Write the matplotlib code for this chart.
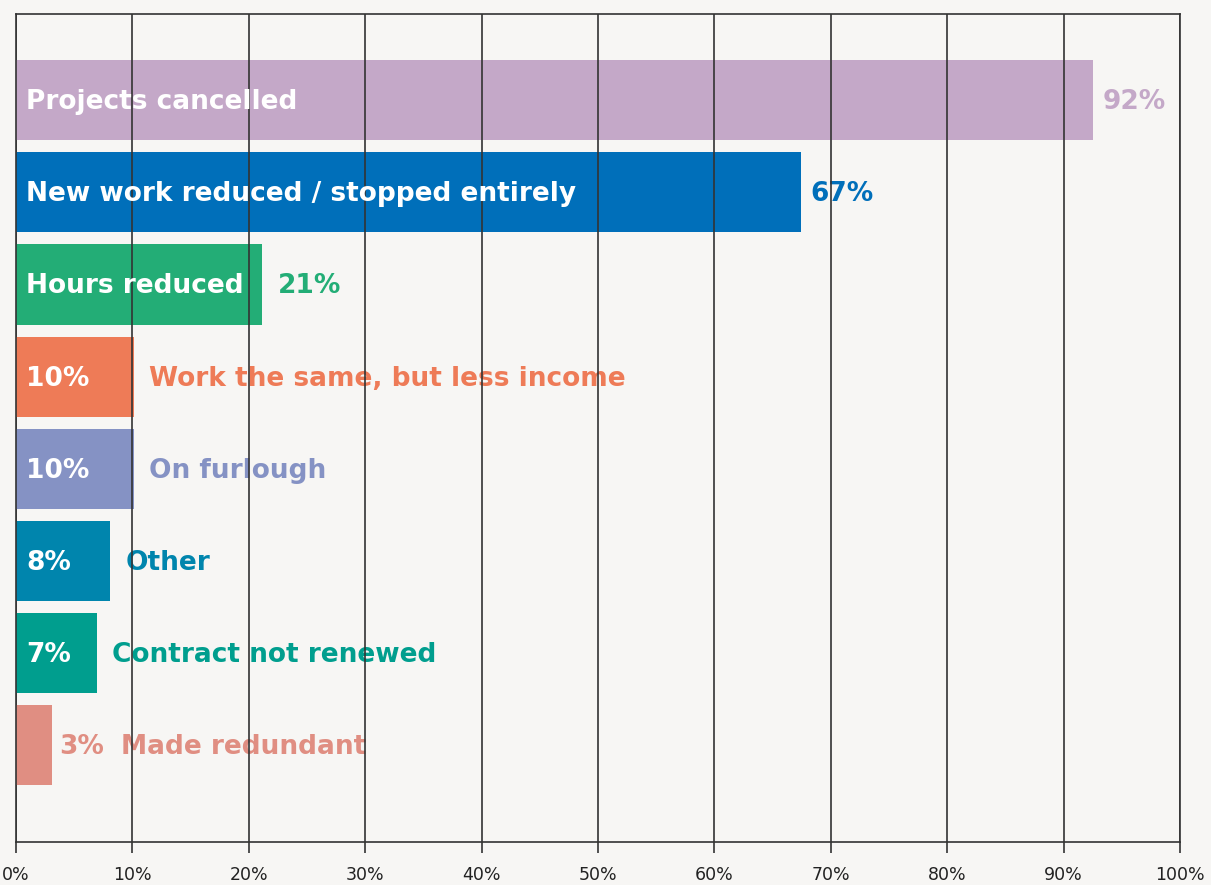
import numpy as np
import matplotlib.pyplot as plt

plt.rcParams['font.family'] = ['DejaVu Sans']

# data
categories = ['Projects cancelled', 'New work reduced / stopped entirely', 'Hours reduced',
              'Work the same, but less income', 'On furlough', 'Other',
              'Contract not renewed', 'Made redundant']
values = [92.5, 67.4, 21.1, 10.1, 10.1, 8.1, 7.0, 3.1]
value_labels = ['92%', '67%', '21%', '10%', '10%', '8%', '7%', '3%']
colors = ['#c4a8c8', '#006fba', '#23ad76', '#ee7b57', '#8592c4', '#0085ad', '#009e8e', '#e08e82']
xticks = np.arange(0, 101, 10)

bg = '#f7f6f4'
grid_c = '#333333'

fig = plt.figure(figsize=(12.11, 8.85), dpi=100, facecolor=bg)
ax = fig.add_axes([16 / 1211, 43 / 885, 1164 / 1211, 828 / 885])
ax.set_facecolor(bg)

y = np.arange(len(categories))
ax.barh(y, values, height=0.87, color=colors, zorder=2)

ax.set_xlim(0, 100)
ax.set_ylim(8.05, -0.935)
ax.set_xticks(xticks)
ax.set_xticklabels([f'{t}%' for t in xticks], fontsize=12.5, color='#222222')
ax.set_yticks([])
ax.tick_params(axis='x', length=8, width=1.2, color=grid_c, pad=9)
ax.grid(axis='x', color=grid_c, linewidth=1.2, zorder=1)
ax.set_axisbelow(False)
for s in ax.spines.values():
    s.set_color(grid_c)
    s.set_linewidth(1.2)
    s.set_zorder(1)

fs = 19
dy = -2
for i, (cat, v, lab, c) in enumerate(zip(categories, values, value_labels, colors)):
    if i < 3:
        # name inside, value outside
        ax.annotate(cat, (0, i), xytext=(10, dy), textcoords='offset pixels',
                    ha='left', va='center', fontsize=fs, fontweight='bold', color='white', zorder=3)
        off = 10 if i < 2 else 16
        ax.annotate(lab, (v, i), xytext=(off, dy), textcoords='offset pixels',
                    ha='left', va='center', fontsize=fs, fontweight='bold', color=c, zorder=0.5)
    elif i < 7:
        ax.annotate(lab, (0, i), xytext=(10, dy), textcoords='offset pixels',
                    ha='left', va='center', fontsize=fs, fontweight='bold', color='white', zorder=3)
        ax.annotate(cat, (v, i), xytext=(15, dy), textcoords='offset pixels',
                    ha='left', va='center', fontsize=fs, fontweight='bold', color=c, zorder=0.5)
    else:
        ax.annotate(lab, (v, i), xytext=(7, dy), textcoords='offset pixels',
                    ha='left', va='center', fontsize=fs, fontweight='bold', color=c, zorder=0.5)
        ax.annotate(cat, (v, i), xytext=(69, dy), textcoords='offset pixels',
                    ha='left', va='center', fontsize=fs, fontweight='bold', color=c, zorder=0.5)

fig.savefig('out.png', dpi=100, facecolor=bg)
